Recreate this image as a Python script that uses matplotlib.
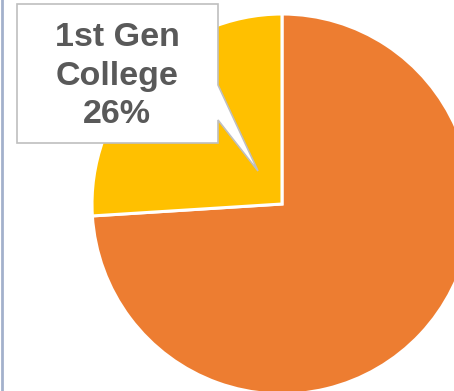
import matplotlib.pyplot as plt
from matplotlib.patches import Polygon

# data
labels = ['Continuing Gen', '1st Gen College']
shares = [74, 26]
colors = ['#ED7D31', '#FFC000']
callout_text = '1st Gen\nCollege\n26%'

W, H = 454, 391
cx, cy, r = 282, 204, 190

fig = plt.figure(figsize=(W / 100, H / 100), dpi=100)

# pie axes, 1 data unit = r pixels
ax = fig.add_axes([0, 0, 1, 1])
ax.pie(shares, colors=colors, startangle=90, counterclock=False,
       wedgeprops=dict(edgecolor='white', linewidth=2.2))
ax.set_xlim(-cx / r, (W - cx) / r)
ax.set_ylim(-(H - cy) / r, cy / r)
ax.set_aspect('auto')
ax.axis('off')

# overlay in pixel coords for the callout
ov = fig.add_axes([0, 0, 1, 1])
ov.set_xlim(0, W)
ov.set_ylim(H, 0)
ov.axis('off')
ov.patch.set_alpha(0)

box = Polygon([(17, 4), (218, 4), (218, 85), (258, 171), (218, 120),
               (218, 143), (17, 143)], closed=True,
              facecolor='white', edgecolor='#BFBFBF', linewidth=1.2)
ov.add_patch(box)
ov.text(117, 76, callout_text, ha='center', va='center',
        fontsize=24.5, fontweight='bold', color='#595959',
        family='Liberation Sans', linespacing=1.3)

# left border line
ov.plot([1.5, 1.5], [0, H], color='#A3B1CC', linewidth=2)

fig.savefig('out.png', dpi=100)
